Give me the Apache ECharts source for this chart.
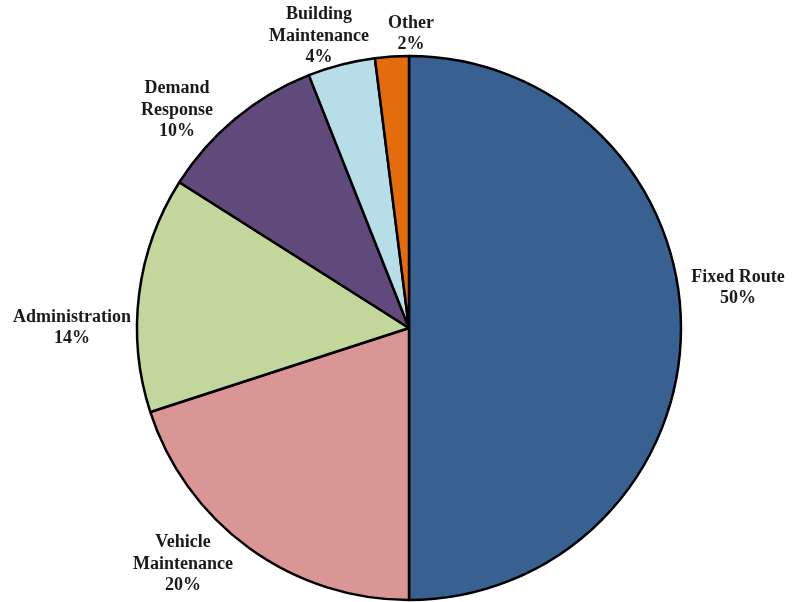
<!DOCTYPE html>
<html>
<head>
<meta charset="utf-8">
<script src="https://cdn.jsdelivr.net/npm/echarts@6/dist/echarts.min.js"></script>
<style>html,body{margin:0;padding:0;background:#fff;}#c{width:806px;height:602px;}</style>
</head>
<body>
<div id="c"></div>
<script>
var categories = ['Fixed Route', 'Vehicle\nMaintenance', 'Administration', 'Demand\nResponse', 'Building\nMaintenance', 'Other'];
var values = [50, 20, 14, 10, 4, 2];
var colors = ['#386091', '#D99694', '#C3D69B', '#604A7B', '#B7DEE8', '#E46C0A'];
var labelPos = [[738, 288], [183, 564], [72, 328], [177, 110], [319, 36], [411, 34]];

var chart = echarts.init(document.getElementById('c'));
chart.setOption({
  animation: false,
  backgroundColor: '#fff',
  series: [{
    type: 'pie',
    center: [409, 328],
    radius: 272,
    startAngle: 90,
    clockwise: true,
    avoidLabelOverlap: false,
    data: categories.map(function (c, i) {
      return { name: c, value: values[i], itemStyle: { color: colors[i] } };
    }),
    itemStyle: { borderColor: '#000', borderWidth: 2.5 },
    label: {
      show: true,
      position: 'outside',
      formatter: '{b}\n{c}%',
      fontFamily: '"Liberation Serif", "Times New Roman", serif',
      fontWeight: 'bold',
      fontSize: 18,
      lineHeight: 21.5,
      color: '#1a1a1a',
      align: 'center'
    },
    labelLine: { show: false },
    labelLayout: function (p) {
      var pos = labelPos[p.dataIndex];
      return { x: pos[0], y: pos[1], align: 'center', verticalAlign: 'middle' };
    },
    emphasis: { disabled: true }
  }]
});
</script>
</body>
</html>
